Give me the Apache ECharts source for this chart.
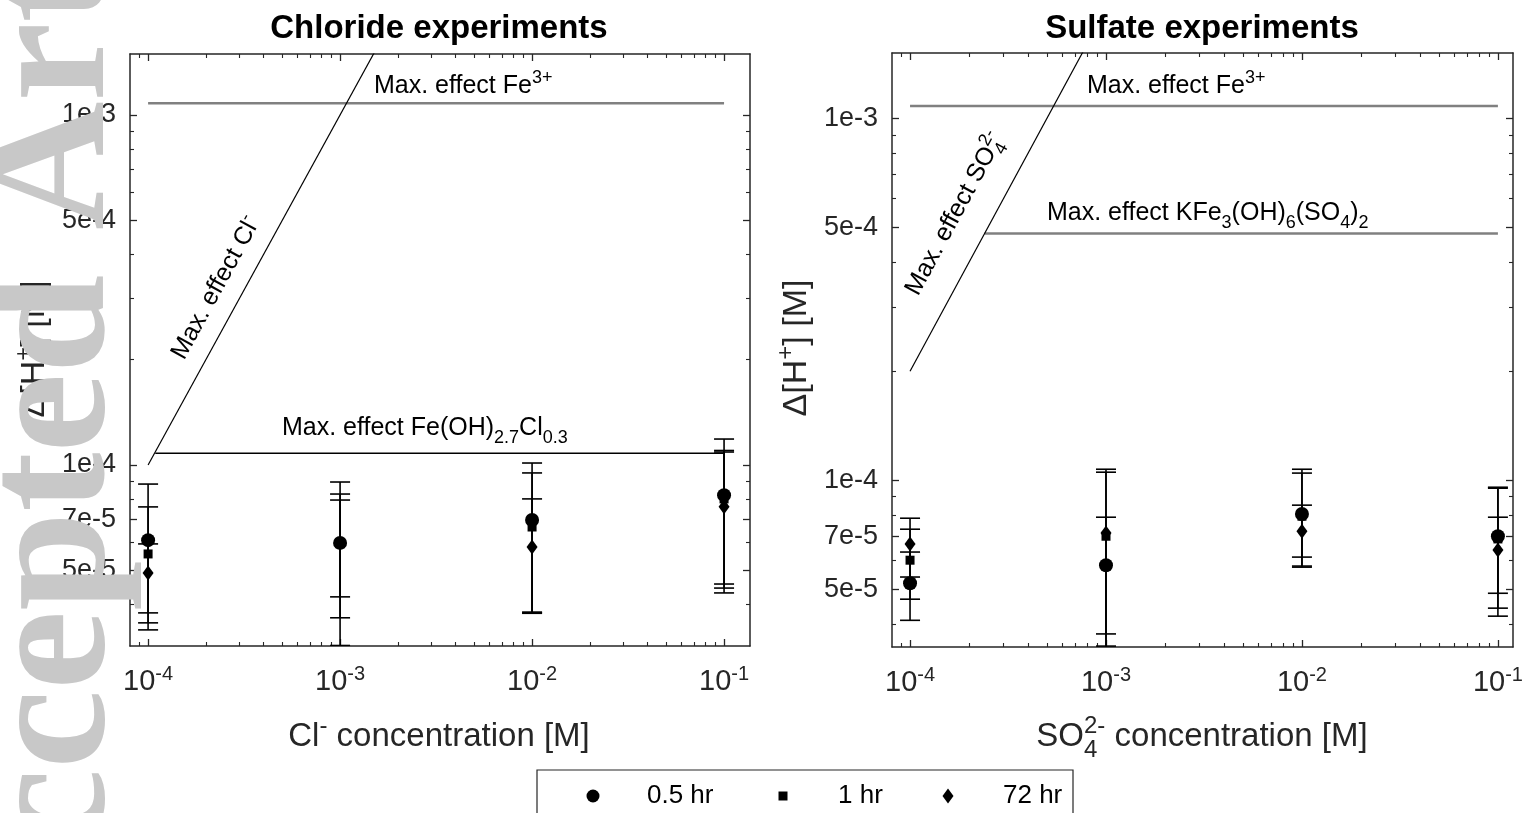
<!DOCTYPE html>
<html><head><meta charset="utf-8">
<script src="https://cdn.jsdelivr.net/npm/echarts@6/dist/echarts.min.js"></script>
<style>html,body{margin:0;padding:0;background:#fff}#chart{width:1526px;height:813px}</style>
</head><body><div id="chart"></div>
<script>
// ---------------- data ----------------
const concentrations = [1e-4, 1e-3, 1e-2, 1e-1];
const seriesNames = ['0.5 hr', '1 hr', '72 hr'];

// Chloride experiments: value, lower and upper error limits
const cl_05hr      = [6.10e-5, 5.99e-5, 6.96e-5, 8.20e-5];
const cl_05hr_low  = [3.38e-5, 3.05e-5, 3.78e-5, 4.31e-5];
const cl_05hr_high = [8.82e-5, 8.94e-5, 1.013e-4, 1.186e-4];
const cl_1hr       = [5.57e-5, 5.95e-5, 6.65e-5, 8.00e-5];
const cl_1hr_low   = [3.54e-5, 3.66e-5, 3.80e-5, 4.45e-5];
const cl_1hr_high  = [7.59e-5, 8.26e-5, 9.49e-5, 1.10e-4];
const cl_72hr      = [4.91e-5, 6.00e-5, 5.83e-5, 7.60e-5];
const cl_72hr_low  = [3.78e-5, 4.20e-5, 3.77e-5, 4.57e-5];
const cl_72hr_high = [5.95e-5, 7.94e-5, 8.00e-5, 1.089e-4];

// Sulfate experiments
const so4_05hr      = [5.19e-5, 5.82e-5, 8.06e-5, 7.00e-5];
const so4_05hr_low  = [4.10e-5, 1.00e-5, 5.79e-5, 4.43e-5];
const so4_05hr_high = [6.33e-5, 1.072e-4, 1.072e-4, 9.56e-5];
const so4_1hr       = [6.01e-5, 7.00e-5, 7.95e-5, 6.88e-5];
const so4_1hr_low   = [4.69e-5, 3.48e-5, 5.75e-5, 4.21e-5];
const so4_1hr_high  = [7.32e-5, 1.052e-4, 1.046e-4, 9.50e-5];
const so4_72hr      = [6.66e-5, 7.14e-5, 7.23e-5, 6.41e-5];
const so4_72hr_low  = [5.40e-5, 3.76e-5, 6.13e-5, 4.87e-5];
const so4_72hr_high = [7.85e-5, 7.90e-5, 8.53e-5, 7.90e-5];

// "Max. effect" limit lines
const clFe3X = [1e-4, 1e-1],       clFe3Y = [1.08e-3, 1.08e-3];
const clFeOHClX = [1.09e-4, 1e-1], clFeOHClY = [1.08e-4, 1.08e-4];
const clClX = [1e-4, 3e-3],        clClY = [1e-4, 3e-3];
const so4Fe3X = [1e-4, 1e-1],      so4Fe3Y = [1.08e-3, 1.08e-3];
const so4JarX = [2.4e-4, 1e-1],    so4JarY = [4.8e-4, 4.8e-4];
const so4SO4X = [1e-4, 2e-3],      so4SO4Y = [2e-4, 4e-3];

// axes
const clXRange = [8.05e-5, 0.1365], clYRange = [3.04e-5, 1.493e-3];
const so4XRange = [8.09e-5, 0.1194], so4YRange = [3.46e-5, 1.514e-3];
const xTickValues = [1e-4, 1e-3, 1e-2, 1e-1];
const xTickExponents = ['-4', '-3', '-2', '-1'];
const yTickValues = [5e-5, 7e-5, 1e-4, 5e-4, 1e-3];
const yTickLabels = ['5e-5', '7e-5', '1e-4', '5e-4', '1e-3'];

// ---------------- helpers ----------------
const L = Math.log10;
const FF = '"Liberation Sans", Arial, Helvetica, sans-serif';
const SERIF = '"Liberation Serif", "Times New Roman", serif';
const AX = '#262626';
const ctx = document.createElement('canvas').getContext('2d');
function measure(t, size, weight, fam) { ctx.font = (weight || 'normal') + ' ' + size + 'px ' + (fam || FF); return ctx.measureText(t).width; }
function idxOf(arr, v) { let b = 0, d = Infinity; arr.forEach((a, i) => { const e = Math.abs(a - v); if (e < d) { d = e; b = i; } }); return b; }
function minorTicks(r, majors) {
  const out = [], lo = L(r[0]), hi = L(r[1]), mj = majors.map(L);
  for (let n = -6; n <= 0; n++) for (let k = 1; k <= 9; k++) {
    const lv = L(k * Math.pow(10, n));
    if (lv > lo + 1e-9 && lv < hi - 1e-9 && !mj.some(m => Math.abs(m - lv) < 1e-6)) out.push(lv);
  }
  return out;
}
const xMajor = xTickValues.map(L), yMajor = yTickValues.map(L);

function axisSet(gi, r, majors, dir) {
  const isX = dir === 'x';
  const minors = minorTicks(r, isX ? xTickValues : yTickValues);
  const base = { type: 'value', gridIndex: gi, min: L(r[0]), max: L(r[1]), splitLine: { show: false }, silent: true, axisPointer: { show: false } };
  const p1 = isX ? 'bottom' : 'left', p2 = isX ? 'top' : 'right';
  const line = { show: true, onZero: false, lineStyle: { color: AX, width: 1.5 } };
  const noLine = { show: false, onZero: false };
  const majTick = { show: true, inside: true, length: 7, customValues: majors, lineStyle: { color: AX, width: 1.3 } };
  const minTick = { show: true, inside: true, length: 4, customValues: minors, lineStyle: { color: AX, width: 1.1 } };
  const label = isX ? {
    show: true, customValues: majors, margin: 20, color: AX, fontFamily: FF,
    formatter: v => '{b|10}{s|' + xTickExponents[idxOf(majors, v)] + '}',
    rich: {
      b: { fontSize: 29, fontFamily: FF, color: AX, lineHeight: 31, verticalAlign: 'middle' },
      s: { fontSize: 20, fontFamily: FF, color: AX, lineHeight: 20, padding: [0, 0, 15, 0], verticalAlign: 'middle' }
    }
  } : {
    show: true, customValues: majors, margin: 14, color: AX, fontFamily: FF, fontSize: 27,
    formatter: v => yTickLabels[idxOf(majors, v)]
  };
  return [
    Object.assign({}, base, { position: p1, axisLine: line, axisTick: majTick, axisLabel: label }),
    Object.assign({}, base, { position: p1, axisLine: noLine, axisTick: minTick, axisLabel: { show: false } }),
    Object.assign({}, base, { position: p2, axisLine: line, axisTick: majTick, axisLabel: { show: false } }),
    Object.assign({}, base, { position: p2, axisLine: noLine, axisTick: minTick, axisLabel: { show: false } })
  ];
}

const symbolOf = { '0.5 hr': ['circle', 14], '1 hr': ['rect', 9], '72 hr': ['diamond', [11, 15]] };

function lineSeries(gi, xs, ys, color, width) {
  return { type: 'line', xAxisIndex: gi * 4, yAxisIndex: gi * 4, data: xs.map((x, i) => [L(x), L(ys[i])]),
    symbol: 'none', showSymbol: false, lineStyle: { color: color, width: width }, silent: true, z: 1, clip: true };
}
function scatterSeries(gi, name, vals) {
  return { type: 'scatter', name: name, xAxisIndex: gi * 4, yAxisIndex: gi * 4,
    symbol: symbolOf[name][0], symbolSize: symbolOf[name][1], itemStyle: { color: '#000', opacity: 1 }, z: 4,
    emphasis: { disabled: true },
    data: concentrations.map((c, i) => [L(c), L(vals[i])]) };
}
function errorSeries(gi, name, low, high) {
  return { type: 'custom', name: name, xAxisIndex: gi * 4, yAxisIndex: gi * 4, clip: true, silent: true, z: 3,
    itemStyle: { color: '#000' },
    encode: { x: 0, y: [1, 2] },
    data: concentrations.map((c, i) => [L(c), L(low[i]), L(high[i])]),
    renderItem: function (params, api) {
      const x = api.value(0);
      const a = api.coord([x, api.value(2)]), b = api.coord([x, api.value(1)]);
      const hw = 10, st = { stroke: '#000', lineWidth: 1.6 };
      return { type: 'group', children: [
        { type: 'line', shape: { x1: a[0], y1: a[1], x2: b[0], y2: b[1] }, style: st },
        { type: 'line', shape: { x1: a[0] - hw, y1: a[1], x2: a[0] + hw, y2: a[1] }, style: st },
        { type: 'line', shape: { x1: b[0] - hw, y1: b[1], x2: b[0] + hw, y2: b[1] }, style: st }
      ] };
    } };
}

// composite (sub/superscript) text
function compose(parts, S, o) {
  const weight = o.weight || 'normal', fill = o.fill || '#000';
  const els = []; let x = 0, pending = null;
  parts.forEach(p => {
    const s = (p.sup || p.sub) ? Math.round(S * 0.72) : S;
    const shift = p.sup ? -0.42 * S : (p.sub ? 0.3 * S : 0);
    const w = measure(p.t, s, weight);
    els.push({ type: 'text', x: x, y: shift - 0.3465 * s + 0.3465 * S,
      style: { text: p.t, fontSize: s, fontFamily: FF, fontWeight: weight, fill: fill, align: 'left', verticalAlign: 'middle' } });
    if (p.stack) pending = w;
    else if (pending !== null) { x += Math.max(pending, w); pending = null; }
    else x += w;
  });
  return { els: els, width: x };
}
function place(parts, S, x, y, o) {
  o = o || {};
  const c = compose(parts, S, o);
  const dx = o.align === 'center' ? -c.width / 2 : 0;
  c.els.forEach(e => { e.x += dx; });
  return { type: 'group', x: x, y: y, rotation: o.rotation || 0, children: c.els };
}
const deg = Math.PI / 180;

// ---------------- option ----------------
const xAxes = [].concat(axisSet(0, clXRange, xMajor, 'x'), axisSet(1, so4XRange, xMajor, 'x'));
const yAxes = [].concat(axisSet(0, clYRange, yMajor, 'y'), axisSet(1, so4YRange, yMajor, 'y'));

const clSets = [[cl_05hr, cl_05hr_low, cl_05hr_high], [cl_1hr, cl_1hr_low, cl_1hr_high], [cl_72hr, cl_72hr_low, cl_72hr_high]];
const so4Sets = [[so4_05hr, so4_05hr_low, so4_05hr_high], [so4_1hr, so4_1hr_low, so4_1hr_high], [so4_72hr, so4_72hr_low, so4_72hr_high]];

const series = [
  lineSeries(0, clFe3X, clFe3Y, '#808080', 2.5),
  lineSeries(0, clFeOHClX, clFeOHClY, '#000', 1.4),
  lineSeries(0, clClX, clClY, '#000', 1.2),
  lineSeries(1, so4Fe3X, so4Fe3Y, '#808080', 2.5),
  lineSeries(1, so4JarX, so4JarY, '#808080', 2.5),
  lineSeries(1, so4SO4X, so4SO4Y, '#000', 1.2)
];
seriesNames.forEach((n, k) => { series.push(scatterSeries(0, n, clSets[k][0])); series.push(scatterSeries(1, n, so4Sets[k][0])); });
seriesNames.forEach((n, k) => { series.push(errorSeries(0, n, clSets[k][1], clSets[k][2])); series.push(errorSeries(1, n, so4Sets[k][1], so4Sets[k][2])); });

function legendFor(name, icon, cx, w, h, textX) {
  const left = cx - w / 2;
  return { data: [{ name: name, icon: icon }], left: left, top: 781, padding: 0, itemWidth: w, itemHeight: h,
    symbolKeepAspect: false, z: 10, itemStyle: { color: '#000' },
    textStyle: { fontSize: 26, fontFamily: FF, color: '#000', lineHeight: 30, padding: [0, 0, 0, textX - (left + w + 5)] } };
}

const WM_SIZE = 178;
const wmStart = 230 + measure('Accepted ', WM_SIZE, 'bold', SERIF);

const graphic = [
  { type: 'rect', shape: { x: 537, y: 770, width: 536, height: 70 }, style: { fill: '#fff', stroke: AX, lineWidth: 1.2 }, z: 1 },
  place([{ t: 'Chloride experiments' }], 33, 439, 29, { align: 'center', weight: 'bold', fill: '#000' }),
  place([{ t: 'Sulfate experiments' }], 33, 1202, 29, { align: 'center', weight: 'bold', fill: '#000' }),
  place([{ t: 'Cl' }, { t: '-', sup: true }, { t: ' concentration [M]' }], 33, 439, 737, { align: 'center', fill: AX }),
  place([{ t: 'SO' }, { t: '2-', sup: true, stack: true }, { t: '4', sub: true }, { t: ' concentration [M]' }], 33, 1202, 737, { align: 'center', fill: AX }),
  place([{ t: 'Δ[H' }, { t: '+', sup: true }, { t: '] [M]' }], 34, 35, 349, { align: 'center', rotation: 90 * deg, fill: AX }),
  place([{ t: 'Δ[H' }, { t: '+', sup: true }, { t: '] [M]' }], 34, 797, 348, { align: 'center', rotation: 90 * deg, fill: AX }),
  place([{ t: 'Max. effect Fe' }, { t: '3+', sup: true }], 25, 374, 86),
  place([{ t: 'Max. effect Fe' }, { t: '3+', sup: true }], 25, 1087, 86),
  place([{ t: 'Max. effect Fe(OH)' }, { t: '2.7', sub: true }, { t: 'Cl' }, { t: '0.3', sub: true }], 25, 282, 428),
  place([{ t: 'Max. effect KFe' }, { t: '3', sub: true }, { t: '(OH)' }, { t: '6', sub: true }, { t: '(SO' }, { t: '4', sub: true }, { t: ')' }, { t: '2', sub: true }], 25, 1047, 213),
  place([{ t: 'Max. effect Cl' }, { t: '-', sup: true }], 25, 216, 288, { align: 'center', rotation: 61.25 * deg }),
  place([{ t: 'Max. effect SO' }, { t: '2-', sup: true, stack: true }, { t: '4', sub: true }], 25, 955, 214, { align: 'center', rotation: 61.6 * deg }),
  { type: 'text', x: 57, y: wmStart, rotation: 90 * deg, z: 100, silent: true,
    style: { text: 'Accepted Article', fontSize: WM_SIZE, fontFamily: SERIF, fontWeight: 'bold', fill: '#c8c8c8', align: 'left', verticalAlign: 'middle' } }
];

const option = {
  backgroundColor: '#fff',
  animation: false,
  color: ['#000'],
  grid: [
    { left: 130, top: 54, width: 620, height: 592, containLabel: false, outerBoundsMode: 'none' },
    { left: 892, top: 53, width: 621, height: 594, containLabel: false, outerBoundsMode: 'none' }
  ],
  xAxis: xAxes,
  yAxis: yAxes,
  legend: [
    legendFor('0.5 hr', 'circle', 593, 13, 13, 647),
    legendFor('1 hr', 'rect', 783, 9, 9, 838),
    legendFor('72 hr', 'diamond', 948, 11, 15, 1003)
  ],
  graphic: graphic,
  series: series
};

const chart = echarts.init(document.getElementById('chart'), null, { renderer: 'canvas' });
chart.setOption(option);
</script>
</body></html>
